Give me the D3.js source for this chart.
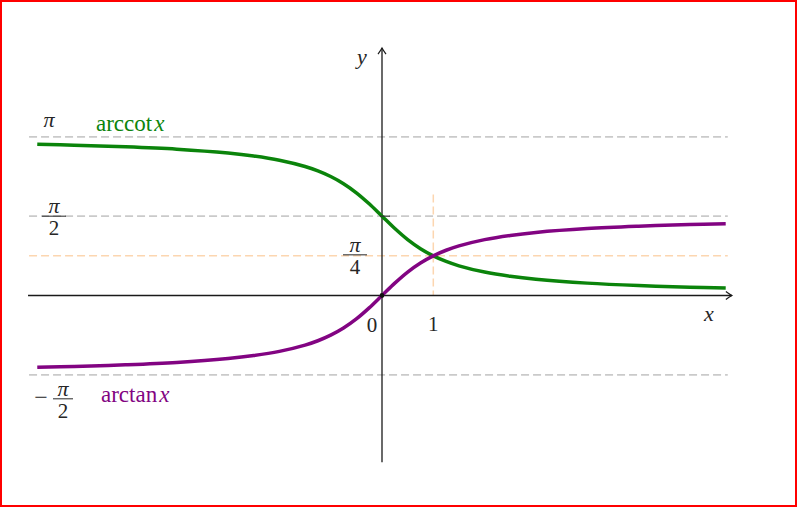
<!DOCTYPE html>
<html>
<head>
<meta charset="utf-8">
<script src="https://cdn.jsdelivr.net/npm/d3@7"></script>
<style>
  html, body { margin: 0; padding: 0; background: #fff; }
  svg { display: block; }
  text { font-family: "Liberation Serif", "DejaVu Serif", serif; fill: #262626; }
</style>
</head>
<body>
<svg id="chart" width="797" height="507"></svg>
<script>
// ---- data ----
const xSamples = [-6.72, -6, -5, -4, -3, -2.5, -2, -1.5, -1.25, -1, -0.75, -0.5, -0.25, 0,
                  0.25, 0.5, 0.75, 1, 1.25, 1.5, 2, 2.5, 3, 4, 5, 6, 6.7];
const arctanValues = [-1.423, -1.406, -1.373, -1.326, -1.249, -1.190, -1.107, -0.983, -0.896, -0.785, -0.644, -0.464, -0.245, 0,
                      0.245, 0.464, 0.644, 0.785, 0.896, 0.983, 1.107, 1.190, 1.249, 1.326, 1.373, 1.406, 1.423];
const arccotValues = [2.994, 2.976, 2.944, 2.897, 2.820, 2.761, 2.678, 2.554, 2.467, 2.356, 2.214, 2.034, 1.816, 1.571,
                      1.326, 1.107, 0.927, 0.785, 0.675, 0.588, 0.464, 0.381, 0.322, 0.245, 0.197, 0.165, 0.148];
const refLevels = [Math.PI, Math.PI / 2, -Math.PI / 2];   // grey dashed
const quarterLevel = Math.PI / 4;                          // orange dashed
const markX = 1;
const xTickLabels = ["0", "1"];
const seriesNames = ["arccot", "arctan"];

// ---- scales ----
const svg = d3.select("#chart");
const x = d3.scaleLinear().domain([0, 1]).range([382, 433.3]);
const y = d3.scaleLinear().domain([0, 1]).range([295.5, 245.0]);

// border
svg.append("rect").attr("x", 1).attr("y", 1).attr("width", 795).attr("height", 505)
  .attr("fill", "none").attr("stroke", "#ff0000").attr("stroke-width", 2);

const xMin = -6.88, xMax = 6.74;

// grey dashed reference lines
svg.selectAll("line.ref").data(refLevels).enter().append("line")
  .attr("class", "ref")
  .attr("x1", x(xMin)).attr("x2", x(xMax))
  .attr("y1", d => y(d)).attr("y2", d => y(d))
  .attr("stroke", "#cacaca").attr("stroke-width", 1.8).attr("stroke-dasharray", "8,4");

// orange dashed lines
svg.append("line")
  .attr("x1", x(xMin)).attr("x2", x(xMax))
  .attr("y1", y(quarterLevel)).attr("y2", y(quarterLevel))
  .attr("stroke", "#fcd6b0").attr("stroke-width", 1.5).attr("stroke-dasharray", "8,4");
svg.append("line")
  .attr("x1", x(markX)).attr("x2", x(markX))
  .attr("y1", y(2.0)).attr("y2", y(0))
  .attr("stroke", "#fcd6b0").attr("stroke-width", 1.5).attr("stroke-dasharray", "8,4");

// axes
const axisColor = "#1a1a1a";
svg.append("line").attr("x1", x(-6.9)).attr("x2", x(6.82)).attr("y1", y(0)).attr("y2", y(0))
  .attr("stroke", axisColor).attr("stroke-width", 1.3);
svg.append("line").attr("x1", x(0)).attr("x2", x(0)).attr("y1", y(-3.3)).attr("y2", y(4.9))
  .attr("stroke", axisColor).attr("stroke-width", 1.3);
// arrow heads
const ax = x(6.82), ay = y(0);
svg.append("path").attr("d", `M${ax - 6},${ay - 4} Q${ax - 2},${ay - 1} ${ax},${ay} Q${ax - 2},${ay + 1} ${ax - 6},${ay + 4}`)
  .attr("fill", "none").attr("stroke", axisColor).attr("stroke-width", 1.2);
const bx = x(0), by = y(4.9);
svg.append("path").attr("d", `M${bx - 4},${by + 6} Q${bx - 1},${by + 2} ${bx},${by} Q${bx + 1},${by + 2} ${bx + 4},${by + 6}`)
  .attr("fill", "none").attr("stroke", axisColor).attr("stroke-width", 1.2);

// curves
const line = d3.line().x(d => x(d[0])).y(d => y(d[1])).curve(d3.curveCatmullRom);
const cotData = xSamples.map((v, i) => [v, arccotValues[i]]);
const tanData = xSamples.map((v, i) => [v, arctanValues[i]]);
svg.append("path").attr("d", line(cotData)).attr("fill", "none")
  .attr("stroke", "#0b840b").attr("stroke-width", 3.5).attr("stroke-linecap", "butt");
svg.append("path").attr("d", line(tanData)).attr("fill", "none")
  .attr("stroke", "#820482").attr("stroke-width", 3.5).attr("stroke-linecap", "butt");

// marks
svg.append("circle").attr("cx", x(0)).attr("cy", y(0)).attr("r", 2.4).attr("fill", "#111");
svg.append("line").attr("x1", x(0) - 2).attr("x2", x(0) + 8).attr("y1", y(Math.PI / 2)).attr("y2", y(Math.PI / 2))
  .attr("stroke", "#333").attr("stroke-width", 1.2);

// labels
function txt(px, py, s, opts = {}) {
  const t = svg.append("text").attr("x", px).attr("y", py)
    .attr("font-size", opts.size || 20)
    .attr("text-anchor", opts.anchor || "middle");
  if (opts.italic) t.attr("font-style", "italic");
  t.text(s);
  return t;
}
function frac(cx, barY, num, den, width) {
  txt(cx, barY - 3, num, { size: 22, italic: true });
  svg.append("line").attr("x1", cx - width / 2).attr("x2", cx + width / 2)
    .attr("y1", barY).attr("y2", barY).attr("stroke", "#262626").attr("stroke-width", 1);
  txt(cx, barY + 19, den, { size: 21 });
}

txt(49, 127, "π", { size: 22, italic: true });
frac(54, y(Math.PI / 2), "π", "2", 24);
frac(355, y(quarterLevel) - 1, "π", "4", 24);
txt(41, 405, "−", { size: 24 });
frac(63, y(-Math.PI / 2) + 24, "π", "2", 20);

txt(x(0) - 10, 332, xTickLabels[0], { size: 21 });
txt(x(1), 331, xTickLabels[1], { size: 21 });
txt(709, 321, "x", { size: 22, italic: true });
txt(362, 64, "y", { size: 22, italic: true });

// series labels
const cotLbl = svg.append("text").attr("x", 96).attr("y", 131).attr("font-size", 23).style("fill", "#0b840b");
cotLbl.append("tspan").text(seriesNames[0]);
cotLbl.append("tspan").attr("font-style", "italic").attr("dx", 2).text("x");
const tanLbl = svg.append("text").attr("x", 101).attr("y", 402).attr("font-size", 23).style("fill", "#820482");
tanLbl.append("tspan").text(seriesNames[1]);
tanLbl.append("tspan").attr("font-style", "italic").attr("dx", 2).text("x");
</script>
</body>
</html>
